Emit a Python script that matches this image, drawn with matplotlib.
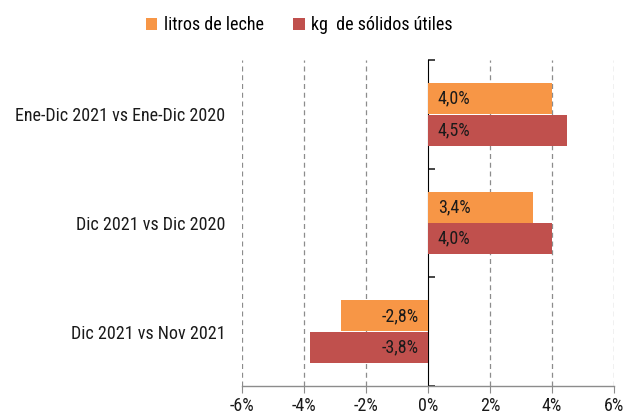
import numpy as np
import matplotlib
matplotlib.use("Agg")
import matplotlib.pyplot as plt
from matplotlib import font_manager
from matplotlib.ticker import FuncFormatter

names = {f.name for f in font_manager.fontManager.ttflist}
if "Roboto Condensed" in names:
    plt.rcParams['font.family'] = ['Roboto Condensed', 'DejaVu Sans']
    fs, lfs = 13, 13
else:
    plt.rcParams['font.family'] = ['Roboto', 'DejaVu Sans']
    fs, lfs = 12, 12.5

categories = ["Ene-Dic 2021 vs Ene-Dic 2020", "Dic 2021 vs Dic 2020", "Dic 2021 vs Nov 2021"]
litros = [4.0, 3.4, -2.8]
solidos = [4.5, 4.0, -3.8]
series_names = ["litros de leche", "kg  de sólidos útiles"]
colors = ["#F79646", "#C0504D"]
xticks = [-6, -4, -2, 0, 2, 4, 6]

fig = plt.figure(figsize=(6.26, 4.16), dpi=100)
ax = fig.add_axes([0.3866, 0.0721, 0.5942, 0.7837])

y = np.arange(len(categories))
h = 0.285
off = 0.145

for vals, name, col, dy in [(litros, series_names[0], colors[0], -off),
                            (solidos, series_names[1], colors[1], off)]:
    bars = ax.barh(y + dy, vals, height=h, color=col, label=name, zorder=3)
    for b, v in zip(bars, vals):
        txt = f"{v:.1f}%".replace(".", ",")
        cy = b.get_y() + b.get_height() / 2
        sign = 1 if v >= 0 else -1
        ax.annotate(txt, (0, cy), xytext=(7 * sign, 0), textcoords="offset points",
                    ha="left" if v >= 0 else "right", va="center",
                    fontsize=fs, color="#1a1a1a", zorder=4)

ax.set_xlim(-6, 6)
ax.set_ylim(len(categories) - 0.5, -0.5)
ax.set_xticks(xticks)
ax.xaxis.set_major_formatter(FuncFormatter(lambda v, p: f"{v:.0f}%"))
ax.set_yticks(y)
ax.set_yticklabels(categories)
ax.tick_params(axis="y", length=0, pad=12, labelsize=fs, colors="#1a1a1a")
ax.tick_params(axis="x", length=5, color="#8c8c8c", labelsize=fs, labelcolor="#1a1a1a", pad=3)

for g in xticks:
    if g != 0:
        ax.axvline(g, color="#8c8c8c", lw=0.9, ls=(0, (4, 3)), zorder=1)

for s in ["top", "right", "left"]:
    ax.spines[s].set_visible(False)
ax.spines["bottom"].set_color("#8c8c8c")
ax.spines["bottom"].set_linewidth(1.0)

# zero axis with category boundary ticks
sec = ax.secondary_yaxis(0.5)
sec.set_yticks(np.arange(len(categories) + 1) - 0.5)
sec.set_yticklabels([])
sec.tick_params(length=5, color="#262626", width=1.2)
sec.spines["left"].set_color("#404040")
sec.spines["left"].set_linewidth(1.8)

fig.legend(loc="center", bbox_to_anchor=(0.478, 0.94), ncol=2, frameon=False,
           fontsize=lfs, handlelength=0.65, handleheight=0.65, columnspacing=1.65,
           handletextpad=0.35)

fig.savefig("out.png", dpi=100)
